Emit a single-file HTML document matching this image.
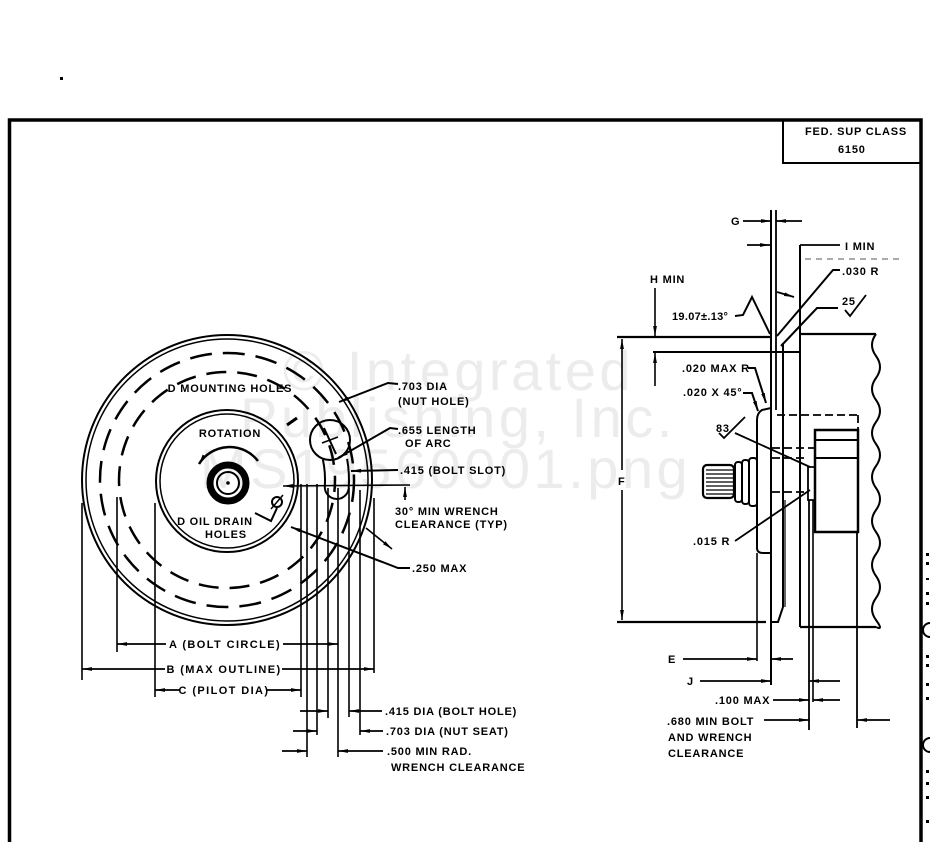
<!DOCTYPE html>
<html><head><meta charset="utf-8"><style>
html,body{margin:0;padding:0;background:#fff;}
svg{display:block}
.t{font-family:"Liberation Sans",sans-serif;font-weight:bold;font-size:11px;letter-spacing:0.8px;fill:#000}
.tb{font-family:"Liberation Sans",sans-serif;font-weight:bold;font-size:11px;letter-spacing:1.4px;fill:#000}
.w{font-family:"Liberation Sans",sans-serif;font-size:56px;letter-spacing:3.5px;fill:#ececec}
</style></head><body>
<svg width="931" height="842" viewBox="0 0 931 842" xmlns="http://www.w3.org/2000/svg">
<defs>
<marker id="ar" markerWidth="10" markerHeight="5" refX="10" refY="2.5" orient="auto-start-reverse" markerUnits="userSpaceOnUse" viewBox="0 0 10 5"><path d="M0,0.6L10,2.5L0,4.4z" fill="#000"/></marker>
</defs>

<!-- watermark -->
<text class="w" x="283" y="390">© Integrated</text>
<text class="w" x="240" y="437">Publishing, Inc.</text>
<text class="w" x="200" y="488">MS19560001.png</text>

<!-- stray dots -->
<rect x="60" y="77" width="3" height="3" fill="#000"/>

<!-- frame -->
<path d="M9.5,842 V120 H921 V842" fill="none" stroke="#000" stroke-width="3.5"/>
<path d="M783,120 V163 H921" fill="none" stroke="#000" stroke-width="2"/>
<text class="t" x="805" y="135">FED. SUP CLASS</text>
<text class="t" x="838" y="153">6150</text>

<!-- right column marks -->
<g fill="none" stroke="#000" stroke-width="2">
<path d="M930,623 A7,7 0 0 0 930,637"/>
<path d="M930,738 A7,7 0 0 0 930,752"/>
</g>
<g fill="#000">
<rect x="926" y="553" width="3" height="3"/><rect x="926" y="562" width="3" height="3"/><rect x="926" y="578" width="3" height="2"/><rect x="926" y="592" width="3" height="3"/><rect x="926" y="602" width="3" height="3"/>
<rect x="926" y="655" width="3" height="3"/><rect x="926" y="664" width="3" height="3"/><rect x="926" y="683" width="3" height="3"/><rect x="926" y="697" width="3" height="3"/>
<rect x="926" y="770" width="3" height="3"/><rect x="926" y="782" width="3" height="3"/><rect x="926" y="796" width="3" height="3"/><rect x="926" y="820" width="3" height="3"/>
</g>

<!-- ============ LEFT VIEW ============ -->
<g fill="none" stroke="#000">
<circle cx="227" cy="480" r="145" stroke-width="2"/>
<circle cx="227" cy="480" r="141" stroke-width="1.5"/>
<circle cx="227" cy="480" r="127" stroke-width="2.5" stroke-dasharray="22 11"/>
<circle cx="227" cy="480" r="108" stroke-width="2.5" stroke-dasharray="20 11" stroke-dashoffset="8"/>
<circle cx="227" cy="481" r="71" stroke-width="2"/>
<circle cx="227" cy="481" r="67" stroke-width="1.5"/>
<circle cx="228" cy="483" r="18" stroke-width="7"/>
<circle cx="228" cy="483" r="11" stroke-width="2"/>
<!-- rotation arrow -->
<path d="M199,464 A36,36 0 0 1 258,461" stroke-width="2.5" marker-start="url(#ar)"/>
<!-- drain hole -->
<circle cx="277" cy="502" r="5" stroke-width="2"/>
<line x1="271" y1="509" x2="283" y2="495" stroke-width="1.5"/>
<polyline points="255,513 271,521 277,508" stroke-width="2"/>
<!-- bolt slot -->
<circle cx="330" cy="440" r="20" stroke-width="2"/>
<path d="M322.9,459.6 A98,98 0 0 1 324.8,486.8 A12,12 0 0 0 348.7,488.5 A122,122 0 0 0 347.1,458.8" stroke-width="2"/>
<line x1="324" y1="428" x2="336" y2="454" stroke-width="2"/>
<line x1="322" y1="443" x2="338" y2="437" stroke-width="1.5"/>
<line x1="287" y1="425" x2="297" y2="418" stroke-width="3"/>
<!-- leaders -->
<polyline points="398,384 388,383 339,402" stroke-width="2" marker-end="url(#ar)"/>
<polyline points="398,429 390,428 338,458" stroke-width="2" marker-end="url(#ar)"/>
<line x1="398" y1="470" x2="351" y2="471" stroke-width="2" marker-end="url(#ar)"/>
<line x1="410" y1="485" x2="283" y2="486" stroke-width="1.6" marker-end="url(#ar)"/>
<line x1="405" y1="500" x2="405" y2="487" stroke-width="1.6" marker-end="url(#ar)"/>
<line x1="366" y1="528" x2="392" y2="549" stroke-width="1.6" marker-end="url(#ar)"/>
<polyline points="410,568 398,568 291,527" stroke-width="2" marker-end="url(#ar)"/>
<!-- extension lines -->
<g stroke-width="1.6">
<line x1="82" y1="503" x2="82" y2="680"/>
<line x1="117" y1="497" x2="117" y2="652"/>
<line x1="155" y1="503" x2="155" y2="697"/>
<line x1="301" y1="484" x2="301" y2="697"/>
<line x1="307" y1="484" x2="307" y2="757"/>
<line x1="317" y1="484" x2="317" y2="735"/>
<line x1="328" y1="488" x2="328" y2="718"/>
<line x1="338" y1="488" x2="338" y2="757"/>
<line x1="349" y1="488" x2="349" y2="717"/>
<line x1="360" y1="490" x2="360" y2="735"/>
<line x1="374" y1="498" x2="374" y2="673"/>
</g>
<!-- dimension lines -->
<g stroke-width="1.8">
<line x1="166" y1="644" x2="117" y2="644" marker-end="url(#ar)"/>
<line x1="283" y1="644" x2="338" y2="644" marker-end="url(#ar)"/>
<line x1="165" y1="669" x2="82" y2="669" marker-end="url(#ar)"/>
<line x1="282" y1="669" x2="374" y2="669" marker-end="url(#ar)"/>
<line x1="180" y1="690" x2="155" y2="690" marker-end="url(#ar)"/>
<line x1="267" y1="690" x2="301" y2="690" marker-end="url(#ar)"/>
<line x1="300" y1="711" x2="328" y2="711" marker-end="url(#ar)"/>
<line x1="382" y1="711" x2="349" y2="711" marker-end="url(#ar)"/>
<line x1="293" y1="731" x2="317" y2="731" marker-end="url(#ar)"/>
<line x1="383" y1="731" x2="360" y2="731" marker-end="url(#ar)"/>
<line x1="282" y1="751" x2="307" y2="751" marker-end="url(#ar)"/>
<line x1="383" y1="751" x2="338" y2="751" marker-end="url(#ar)"/>
</g>
</g>
<circle cx="228" cy="483" r="1.8" fill="#000"/>

<text class="t" x="230" y="392" text-anchor="middle">D MOUNTING HOLES</text>
<text class="t" x="230" y="437" text-anchor="middle">ROTATION</text>
<text class="t" x="215" y="525" text-anchor="middle">D OIL DRAIN</text>
<text class="t" x="226" y="538" text-anchor="middle">HOLES</text>
<text class="t" x="398" y="390">.703 DIA</text>
<text class="t" x="398" y="405">(NUT HOLE)</text>
<text class="t" x="398" y="434">.655 LENGTH</text>
<text class="t" x="405" y="447">OF ARC</text>
<text class="t" x="400" y="474">.415 (BOLT SLOT)</text>
<text class="t" x="395" y="515">30° MIN WRENCH</text>
<text class="t" x="395" y="528">CLEARANCE (TYP)</text>
<text class="t" x="412" y="572">.250 MAX</text>

<text class="tb" x="225" y="648" text-anchor="middle">A (BOLT CIRCLE)</text>
<text class="tb" x="224" y="673" text-anchor="middle">B (MAX OUTLINE)</text>
<text class="tb" x="224" y="694" text-anchor="middle">C (PILOT DIA)</text>
<text class="t" x="385" y="715">.415 DIA (BOLT HOLE)</text>
<text class="t" x="386" y="735">.703 DIA (NUT SEAT)</text>
<text class="t" x="387" y="755">.500 MIN RAD.</text>
<text class="t" x="391" y="771">WRENCH CLEARANCE</text>

<!-- ============ RIGHT VIEW ============ -->
<g fill="none" stroke="#000">
<!-- G / I dims -->
<line x1="743" y1="221" x2="771" y2="221" stroke-width="1.8" marker-end="url(#ar)"/>
<line x1="802" y1="221" x2="776" y2="221" stroke-width="1.8" marker-end="url(#ar)"/>
<line x1="747" y1="245" x2="770" y2="245" stroke-width="1.8" marker-end="url(#ar)"/>
<line x1="840" y1="245" x2="800" y2="245" stroke-width="1.8"/>
<line x1="805" y1="259" x2="900" y2="259" stroke-width="1" stroke-dasharray="6 5" stroke="#555"/>
<line x1="777" y1="292" x2="794" y2="297" stroke-width="1.8" marker-end="url(#ar)"/>
<!-- plate verticals -->
<line x1="771" y1="210" x2="771" y2="685" stroke-width="2"/>
<line x1="776" y1="210" x2="776" y2="410" stroke-width="1.8"/>
<line x1="800" y1="245" x2="800" y2="627" stroke-width="2"/>
<!-- top lines -->
<line x1="617" y1="337" x2="772" y2="337" stroke-width="2.2"/>
<line x1="653" y1="352" x2="800" y2="352" stroke-width="2"/>
<line x1="617" y1="622" x2="766" y2="622" stroke-width="2.2"/>
<!-- H dim -->
<line x1="655" y1="288" x2="655" y2="336" stroke-width="1.6" marker-end="url(#ar)"/>
<line x1="655" y1="386" x2="655" y2="353" stroke-width="1.6" marker-end="url(#ar)"/>
<!-- F dim -->
<line x1="622" y1="470" x2="622" y2="339" stroke-width="1.6" marker-end="url(#ar)"/>
<line x1="622" y1="490" x2="622" y2="620" stroke-width="1.6" marker-end="url(#ar)"/>
<!-- leaders -->
<polyline points="735,316 743,315 752,297 770,334" stroke-width="2"/>
<polyline points="840,270 833,270 777,336" stroke-width="2"/>
<polyline points="838,308 817,308 781,346" stroke-width="2"/>
<polyline points="845,310 850,316 866,295" stroke-width="1.8"/>
<polyline points="748,368 755,368 766,403" stroke-width="2" marker-end="url(#ar)"/>
<polyline points="743,393 752,393 758,411" stroke-width="2" marker-end="url(#ar)"/>
<polyline points="719,433 724,438 745,417" stroke-width="1.8"/>
<line x1="735" y1="433" x2="810" y2="467" stroke-width="1.8"/>
<line x1="735" y1="541" x2="810" y2="490" stroke-width="1.8"/>
<!-- body -->
<path d="M800,334 H876" stroke-width="2.2"/>
<path d="M876,334 q-8,11 0,22 t0,22 t0,22 t0,22 t0,22 t0,22 t0,22 t0,22 t0,22 t0,22 t0,22 t0,22 t0,22 t0,7" stroke-width="2"/>
<path d="M800,627 H876" stroke-width="2.2"/>
<!-- flange plates -->
<path d="M771,408 L762,410 Q757,413 757,420 L757,548 Q757,553 763,553 L771,553" stroke-width="2"/>
<line x1="757" y1="553" x2="757" y2="661" stroke-width="1.6"/>
<path d="M783,343 L783,607 L778,622 L771,622" stroke-width="2"/>
<line x1="785" y1="500" x2="785" y2="607" stroke-width="1.2"/>
<!-- housing -->
<rect x="815" y="430" width="43" height="102" stroke-width="2.5"/>
<line x1="815" y1="440" x2="858" y2="440" stroke-width="2"/>
<line x1="815" y1="458" x2="858" y2="458" stroke-width="2"/>
<line x1="857" y1="532" x2="857" y2="728" stroke-width="1.8"/>
<line x1="809" y1="500" x2="809" y2="730" stroke-width="1.8"/>
<line x1="813" y1="500" x2="813" y2="702" stroke-width="1.6"/>
<path d="M815,467 H808 V500 H815" stroke-width="1.8"/>
<!-- dashed hidden lines -->
<g stroke-width="1.8" stroke-dasharray="8 4">
<line x1="777" y1="415" x2="858" y2="415"/>
<line x1="858" y1="415" x2="858" y2="430"/>
<line x1="772" y1="448" x2="815" y2="448"/>
<line x1="772" y1="458" x2="808" y2="458"/>
<line x1="772" y1="492" x2="806" y2="492"/>
</g>
<!-- shaft -->
<rect x="703" y="465" width="31" height="33" rx="4" stroke-width="2.2"/>
<g stroke-width="1.2">
<line x1="706" y1="470" x2="733" y2="470"/><line x1="706" y1="474" x2="733" y2="474"/><line x1="706" y1="478" x2="733" y2="478"/><line x1="706" y1="482" x2="733" y2="482"/><line x1="706" y1="486" x2="733" y2="486"/><line x1="706" y1="490" x2="733" y2="490"/><line x1="706" y1="494" x2="733" y2="494"/>
</g>
<rect x="735" y="462" width="7" height="40" rx="3" stroke-width="2" fill="#fff"/>
<rect x="742" y="460" width="7" height="44" rx="3" stroke-width="2" fill="#fff"/>
<rect x="749" y="458" width="8" height="48" rx="3" stroke-width="2" fill="#fff"/>
<!-- bottom dims -->
<g stroke-width="1.8">
<line x1="683" y1="659" x2="757" y2="659" marker-end="url(#ar)"/>
<line x1="793" y1="659" x2="771" y2="659" marker-end="url(#ar)"/>
<line x1="700" y1="681" x2="771" y2="681" marker-end="url(#ar)"/>
<line x1="840" y1="681" x2="809" y2="681" marker-end="url(#ar)"/>
<line x1="773" y1="700" x2="809" y2="700" marker-end="url(#ar)"/>
<line x1="840" y1="700" x2="813" y2="700" marker-end="url(#ar)"/>
<line x1="764" y1="720" x2="809" y2="720" marker-end="url(#ar)"/>
<line x1="890" y1="720" x2="857" y2="720" marker-end="url(#ar)"/>
</g>
</g>

<text class="t" x="731" y="225">G</text>
<text class="t" x="845" y="250">I MIN</text>
<text class="t" x="650" y="283">H MIN</text>
<text class="t" x="842" y="275">.030 R</text>
<text class="t" x="842" y="305">25</text>
<text class="t" x="672" y="320" style="letter-spacing:0.3px">19.07±.13°</text>
<text class="t" x="682" y="372">.020 MAX R</text>
<text class="t" x="683" y="396">.020 X 45°</text>
<text class="t" x="716" y="432">83</text>
<text class="t" x="618" y="485">F</text>
<text class="t" x="693" y="545">.015 R</text>
<text class="t" x="668" y="663">E</text>
<text class="t" x="687" y="685">J</text>
<text class="t" x="715" y="704">.100 MAX</text>
<text class="t" x="667" y="725">.680 MIN BOLT</text>
<text class="t" x="668" y="741">AND WRENCH</text>
<text class="t" x="668" y="757">CLEARANCE</text>
</svg>
</body></html>
